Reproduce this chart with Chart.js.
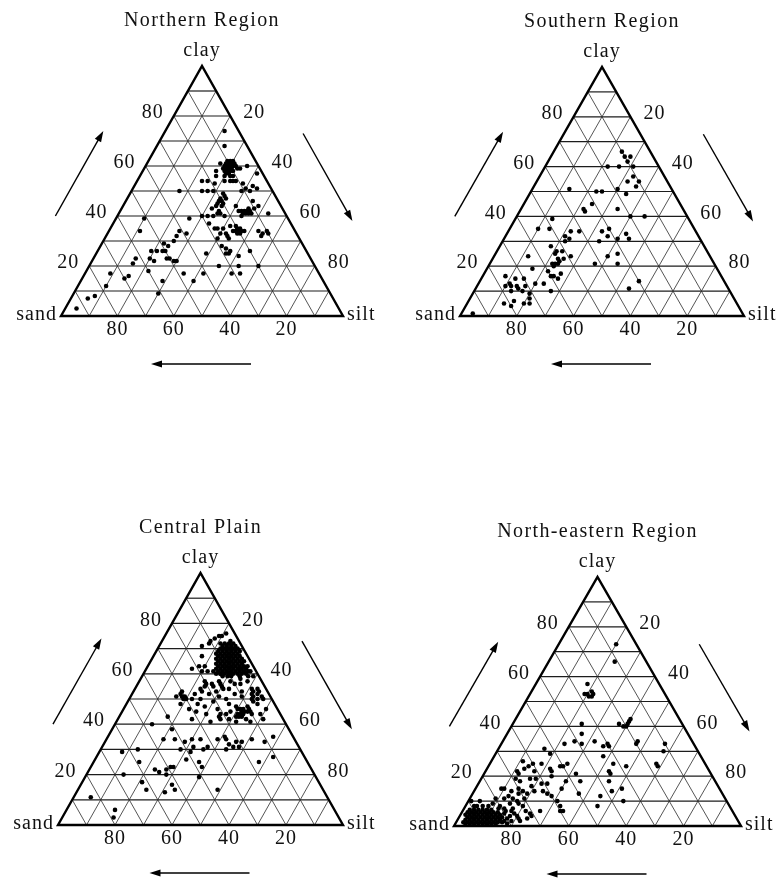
<!DOCTYPE html>
<html>
<head>
<meta charset="utf-8">
<script src="https://cdn.jsdelivr.net/npm/chart.js@4.4.1/dist/chart.umd.min.js"></script>
<style>
  html, body { margin: 0; padding: 0; background: #fff; }
  #wrap { position: relative; width: 781px; height: 881px; overflow: hidden; }
  #wrap canvas { position: absolute; }
</style>
</head>
<body>
<div id="wrap">
  <canvas id="north" width="390" height="440" style="left:0;top:0;width:390px;height:440px"></canvas>
  <canvas id="south" width="391" height="440" style="left:390px;top:0;width:391px;height:440px"></canvas>
  <canvas id="central" width="390" height="441" style="left:0;top:440px;width:390px;height:441px"></canvas>
  <canvas id="northeast" width="391" height="441" style="left:390px;top:440px;width:391px;height:441px"></canvas>
</div>
<script>
// Ternary grid and tick values (percent)
const gridSteps = [10, 20, 30, 40, 50, 60, 70, 80, 90];
const clayTicks = [20, 40, 60, 80];
const siltTicks = [20, 40, 60, 80];
const sandTicks = [80, 60, 40, 20];
const cornerNames = ['clay', 'sand', 'silt'];
const panelTitles = ['Northern Region', 'Southern Region', 'Central Plain', 'North-eastern Region'];

// Soil samples as [clay %, silt %]; sand is the remainder
const northernSamples = [
  [74,21],[68,24],[61,26],[61,28],[62,29],[61,30],[60,31],[60,30],[59,29],[59,28],
  [58,31],[58,32],[59,33],[57,30],[56,30],[56,32],[56,33],[54,31],[59,34],[60,36],
  [57,41],[58,26],[56,27],[54,33],[54,34],[60,29],[61,29],[59,30],[60,32],[62,30],
  [61,31],[58,30],[59,31],[57,31],[58,29],[60,28],[62,28],[54,23],[54,25],[50,25],
  [50,27],[50,29],[53,28],[50,17],[51,40],[50,42],[51,44],[50,39],[53,38],[54,35],
  [52,42],[47,33],[48,34],[47,35],[46,34],[45,33],[49,33],[46,33],[44,33],[44,35],
  [42,35],[41,35],[41,36],[43,32],[40,32],[40,30],[40,38],[44,40],[42,42],[42,44],
  [41,45],[40,44],[42,45],[41,47],[43,47],[41,53],[42,43],[41,44],[43,45],[42,46],
  [41,46],[46,45],[44,48],[45,35],[40,34],[37,34],[35,37],[35,38],[35,40],[33,40],
  [33,42],[36,44],[34,46],[35,46],[33,47],[34,45],[34,47],[33,46],[35,45],[36,42],
  [34,44],[34,48],[32,43],[34,53],[33,55],[34,56],[32,55],[33,57],[31,40],[31,44],
  [28,43],[27,45],[26,47],[25,47],[25,46],[25,39],[26,54],[24,51],[20,46],[20,53],
  [17,55],[20,60],[17,42],[17,52],
  [39,10],[34,11],[34,25],[32,25],[33,28],[39,26],[30,25],[29,22],[28,24],[26,23],
  [26,24],[26,19],[26,21],[23,20],[22,22],[23,26],[23,27],[22,29],[22,30],[23,15],
  [21,15],[18,22],[17,9],[15,15],[16,16],[14,29],[17,35],[14,40],[12,10],[9,30],
  [7,6],[8,8],[3,4]
];

const southernSamples = [
  [66,24],[64,28],[64,26],[62,28],[60,31],[60,22],[60,26],[56,33],[54,32],[54,36],
  [52,36],[51,13],[50,23],[50,25],[51,30],[49,34],[45,24],[43,22],[42,23],[43,34],
  [39,13],[40,40],[40,45],[35,10],[35,14],[34,22],[34,25],[32,21],[31,23],[30,22],
  [34,33],[35,35],[32,36],[30,34],[31,40],[33,42],[31,44],[14,56],[11,54],[28,18],
  [26,21],[25,21],[26,23],[24,27],[21,23],[21,24],[23,25],[22,24],[21,22],[23,23],
  [20,23],[24,12],[24,40],[25,43],[21,45],[21,37],[19,16],[18,22],[16,24],[16,25],
  [17,27],[15,27],[13,23],[13,20],[10,27],[16,8],[15,12],[15,15],[13,11],[12,10],
  [12,14],[12,17],[12,12],[11,15],[10,13],[10,17],[9,20],[5,13],[4,16],[6,16],
  [5,20],[5,22],[7,21],[1,4]
];

const centralSamples = [
  [76,21],[75,19],[73,17],[72,17],[71,15],[67,17],[63,18],[63,20],[61,20],[61,22],
  [73,24],[62,16],[75,20],[74,18],
  // the dense core around 60-72 % clay
  [72,21],[72,22.5],[72,24],[72,25.5],
  [71,22.25],[71,23.75],[71,25.25],[71,26.75],
  [70,22],[70,23.5],[70,25],[70,26.5],[70,28],
  [69,21.75],[69,23.25],[69,24.75],[69,26.25],[69,27.75],[69,29.25],
  [68,21.5],[68,23],[68,24.5],[68,26],[68,27.5],[68,29],
  [67,22.75],[67,24.25],[67,25.75],[67,27.25],[67,28.75],[67,30.25],
  [66,22.5],[66,24],[66,25.5],[66,27],[66,28.5],[66,30],[66,31.5],
  [65,23.75],[65,25.25],[65,26.75],[65,28.25],[65,29.75],[65,31.25],[65,32.75],
  [64,23.5],[64,25],[64,26.5],[64,28],[64,29.5],[64,31],[64,32.5],
  [63,24.75],[63,26.25],[63,27.75],[63,29.25],[63,30.75],[63,32.25],[63,33.75],
  [62,24.5],[62,26],[62,27.5],[62,29],[62,30.5],[62,32],[62,33.5],[62,35],
  [61,25.75],[61,27.25],[61,28.75],[61,30.25],[61,31.75],[61,33.25],[61,34.75],[61,36.25],
  [60,25.5],[60,27],[60,28.5],[60,30],[60,31.5],[60,33],[60,34.5],[60,36],
  [59,28.25],[59,31.25],[59,34.25],[59,37.25],
  [61,24],[60,27],[59,30],[60,31],[62,33],[63,35],[61,37],[59,39],
  [57,23],[56,26],[57,28],[55,30],[57,32],[56,34],[58,35],[56,36],[57,38],
  [56,24],[55,24],[53,24],[55,27],[56,29],[54,31],
  [53,17],[51,19],[52,22],[54,23],[50,25],[52,27],[53,29],[51,31],[54,33],[50,34],
  [52,36],[53,38],[51,39],[54,41],[52,42],[50,43],[53,44],[51,46],[50,47],
  [53,42],[51,43],[49,44],[52,44],[50,45],[54,43],
  [52,17],[51,18],[51,16],[50,19],[50,20],[50,22],[48,25],
  [48,19],[46,23],[45,26],[47,28],[49,30],[46,33],[44,35],[48,36],[45,38],[47,39],
  [46,40],[44,42],[45,42],[47,43],[46,44],[45,45],[48,46],[44,49],[46,50],
  [45,42],[46,41],[44,43],[45,43],[46,42],[44,41],[45,44],[43,42],
  [43,17],[42,26],[44,30],[41,33],[43,35],[42,36],[44,37],[42,39],[43,41],[41,42],
  [43,43],[42,45],[44,46],[41,47],[42,51],
  [40,13],[38,21],[34,20],[34,24],[33,28],[34,30],[31,32],[34,33],[34,39],[35,41],
  [34,42],[32,44],[33,46],[31,48],[33,48],[30,44],[31,46],[34,51],[33,56],[35,58],
  [25,58],[27,62],[30,36],[31,37],[30,28],[29,32],[26,32],[25,37],[23,39],[29,8],
  [30,13],[25,16],[22,23],[21,25],[22,27],[23,28],[23,29],[20,28],[19,40],[20,13],
  [17,21],[14,24],[16,32],[14,34],[13,31],[14,49],[11,6],[6,17],[3,18]
];

const northEasternSamples = [
  [73,20],[66,23],[57,18],[53,19],[53,20],[54,21],[53,22],[52,22],[52,21],[41,37],
  [40,39],[41,40],[42,40],[43,40],[40,40],[41,24],[37,26],[34,32],[34,25],[33,22],
  [33,28],[32,36],[33,37],[32,38],[34,47],[33,47],[33,57],[30,58],[31,16],[29,19],
  [28,38],[24,26],[25,27],[24,25],[25,43],[22,43],[21,44],[24,48],[25,58],[24,59],
  [21,32],
  [26,11],[24,14],[23,13],[25,15],[22,17],[25,18],[23,22],[22,23],[20,24],[22,11],
  [21,12],[19,12],[18,14],[19,17],[19,19],[17,22],[17,24],[15,9],[15,10],[14,13],
  [15,15],[13,16],[14,17],[13,19],[16,19],[14,21],[14,24],[13,26],[12,28],[11,9],
  [11,12],[12,13],[11,15],[10,17],[9,18],[11,19],[10,4],[8,3],[8,8],[15,30],
  [13,37],[8,46],[6,34],[6,35],[6,27],[4,25],
  [10,1],[12,45],[10,54],[15,51],[18,45],[14,48],[10,31],[8,33],[18,30],[18,35],
  // the dense sandy cluster near the sand corner
  [6.5,2.25],[6.5,3.75],[6.5,5.25],[6.5,6.75],[6.5,8.25],[6.5,9.75],
  [5.5,2],[5.5,3.5],[5.5,5],[5.5,6.5],[5.5,8],[5.5,9.5],[5.5,11],[5.5,12.5],
  [4.5,1.75],[4.5,3.25],[4.5,4.75],[4.5,6.25],[4.5,7.75],[4.5,9.25],[4.5,10.75],[4.5,12.25],[4.5,13.75],
  [3.5,3],[3.5,4.5],[3.5,6],[3.5,7.5],[3.5,9],[3.5,10.5],[3.5,12],[3.5,13.5],[3.5,15],
  [2.5,2.75],[2.5,4.25],[2.5,5.75],[2.5,7.25],[2.5,8.75],[2.5,10.25],[2.5,11.75],[2.5,13.25],[2.5,14.75],
  [1.5,2.5],[1.5,4],[1.5,5.5],[1.5,7],[1.5,8.5],[1.5,10],[1.5,11.5],[1.5,13],[1.5,14.5],[1.5,16],
  [0.8,3.6],[0.8,5.1],[0.8,6.6],[0.8,8.1],[0.8,9.6],[0.8,11.1],[0.8,12.6],[0.8,14.1],
  [6,17],[5,18.5],[4,20],[3,17],[2,19],[2,22],[1,18],[3,21],[5,15],[7,12],
  [8,4],[8,6],[9,9],[8,12],[9,15],[7,17],[8,20],[6,22],[3,24],[5,24],
  [7,14],[6,15],[4,17.5],[2,16.5]
];

const FONT = '"Liberation Serif", "DejaVu Serif", serif';
const INK = '#111';

// Pixel position of a composition (clay, silt) through the chart's own scales
function locator(chart) {
  const xs = chart.scales.x, ys = chart.scales.y;
  return (clay, silt) => [xs.getPixelForValue(silt + clay / 2), ys.getPixelForValue(clay)];
}

function segment(ctx, a, b) {
  ctx.beginPath();
  ctx.moveTo(a[0], a[1]);
  ctx.lineTo(b[0], b[1]);
  ctx.stroke();
}

function arrow(ctx, from, to) {
  const ang = Math.atan2(to[1] - from[1], to[0] - from[0]);
  const hl = 11, hw = 3.6;
  const c = Math.cos(ang), s = Math.sin(ang);
  ctx.beginPath();
  ctx.moveTo(from[0], from[1]);
  ctx.lineTo(to[0] - c * hl * 0.7, to[1] - s * hl * 0.7);
  ctx.stroke();
  ctx.beginPath();
  ctx.moveTo(to[0], to[1]);
  ctx.lineTo(to[0] - hl * c + hw * s, to[1] - hl * s - hw * c);
  ctx.lineTo(to[0] - hl * c - hw * s, to[1] - hl * s + hw * c);
  ctx.closePath();
  ctx.fill();
}

function text(ctx, str, x, y, align) {
  ctx.textAlign = align || 'center';
  ctx.fillText(str, x, y);
}

const ternaryFrame = {
  id: 'ternaryFrame',
  beforeDatasetsDraw(chart) {
    const ctx = chart.ctx, P = locator(chart);
    ctx.save();
    ctx.lineCap = 'butt';
    // lines of equal clay
    ctx.strokeStyle = '#1c1c1c';
    ctx.lineWidth = 1.2;
    gridSteps.forEach(g => segment(ctx, P(g, 0), P(g, 100 - g)));
    // lines of equal silt and equal sand
    ctx.strokeStyle = '#2a2a2a';
    ctx.lineWidth = 0.8;
    gridSteps.forEach(g => {
      segment(ctx, P(0, g), P(100 - g, g));
      segment(ctx, P(0, 100 - g), P(100 - g, 0));
    });
    ctx.restore();
  },
  afterDatasetsDraw(chart, args, opts) {
    const ctx = chart.ctx, P = locator(chart);
    const apex = P(100, 0), sandCorner = P(0, 0), siltCorner = P(0, 100);
    ctx.save();
    // outline
    ctx.strokeStyle = '#000';
    ctx.lineWidth = 2.4;
    ctx.lineJoin = 'miter';
    ctx.beginPath();
    ctx.moveTo(sandCorner[0], sandCorner[1]);
    ctx.lineTo(apex[0], apex[1]);
    ctx.lineTo(siltCorner[0], siltCorner[1]);
    ctx.closePath();
    ctx.stroke();

    // labels
    ctx.fillStyle = INK;
    ctx.textBaseline = 'middle';
    ctx.font = '20px ' + FONT;
    try { ctx.letterSpacing = '1px'; } catch (e) {}
    clayTicks.forEach(c => { const p = P(c, 0); text(ctx, String(c), p[0] - 21, p[1] - 3); });
    siltTicks.forEach(s => { const p = P(100 - s, s); text(ctx, String(s), p[0] + 24, p[1] - 3); });
    sandTicks.forEach(d => { const p = P(0, 100 - d); text(ctx, String(d), p[0], p[1] + 14); });
    text(ctx, cornerNames[0], apex[0], apex[1] - 15);
    text(ctx, cornerNames[1], sandCorner[0] - 4, sandCorner[1] - 1, 'right');
    text(ctx, cornerNames[2], siltCorner[0] + 4, siltCorner[1] - 1, 'left');
    try { ctx.letterSpacing = '1.4px'; } catch (e) {}
    text(ctx, opts.title, (sandCorner[0] + siltCorner[0]) / 2, apex[1] - 45);

    // direction arrows
    ctx.strokeStyle = '#000';
    ctx.fillStyle = '#000';
    ctx.lineWidth = 1.4;
    const l1 = P(40, 0), l2 = P(74, 0);
    arrow(ctx, [l1[0] - 62, l1[1]], [l2[0] - 62, l2[1]]);
    const r1 = P(73, 27), r2 = P(38, 62);
    arrow(ctx, [r1[0] + 63, r1[1]], [r2[0] + 63, r2[1]]);
    const mid = (sandCorner[0] + siltCorner[0]) / 2, by = sandCorner[1] + 48;
    arrow(ctx, [mid + 49, by], [mid - 51, by]);
    ctx.restore();
  }
};

// canvas rect and triangle corners (left, right, apex y, base y) for each panel
const panels = [
  { id: 'north', title: panelTitles[0], samples: northernSamples, box: [0, 0, 390, 440], tri: [61, 343, 66, 316] },
  { id: 'south', title: panelTitles[1], samples: southernSamples, box: [390, 0, 391, 440], tri: [460, 744, 67, 316] },
  { id: 'central', title: panelTitles[2], samples: centralSamples, box: [0, 440, 390, 441], tri: [58, 343, 573, 825] },
  { id: 'northeast', title: panelTitles[3], samples: northEasternSamples, box: [390, 440, 391, 441], tri: [454, 741, 577, 826] }
];

panels.forEach(p => {
  const [bx, by, bw, bh] = p.box;
  const [L, R, A, B] = p.tri;
  new Chart(document.getElementById(p.id), {
    type: 'scatter',
    data: {
      datasets: [{
        data: p.samples.map(([clay, silt]) => ({ x: silt + clay / 2, y: clay })),
        pointRadius: 2.3,
        pointHoverRadius: 2.3,
        pointBackgroundColor: '#000',
        pointBorderWidth: 0,
        clip: false
      }]
    },
    options: {
      responsive: false,
      animation: false,
      devicePixelRatio: 1,
      events: [],
      layout: { padding: { left: L - bx, right: bx + bw - R, top: A - by, bottom: by + bh - B } },
      scales: {
        x: { type: 'linear', min: 0, max: 100, display: false },
        y: { type: 'linear', min: 0, max: 100, display: false }
      },
      plugins: {
        legend: { display: false },
        tooltip: { enabled: false },
        ternaryFrame: { title: p.title }
      }
    },
    plugins: [ternaryFrame]
  });
});
</script>
</body>
</html>
